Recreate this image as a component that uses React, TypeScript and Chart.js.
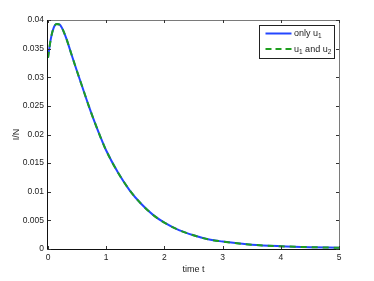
import React, { useEffect, useRef } from "react";
import { Chart, registerables } from "chart.js";
Chart.register(...registerables);

const tValues = [0, 0.05, 0.1, 0.15, 0.2, 0.3, 0.4, 0.5, 0.6, 0.7, 0.8, 0.9, 1.0, 1.2, 1.4, 1.6, 1.8, 2.0, 2.25, 2.5, 2.75, 3.0, 3.5, 4.0, 4.5, 5.0];
const onlyU1 = [0.0334, 0.0368, 0.0387, 0.0393, 0.0392, 0.0372, 0.0341, 0.031, 0.028, 0.025, 0.0222, 0.0196, 0.0172, 0.0134, 0.0103, 0.0079, 0.006, 0.0046, 0.0033, 0.0024, 0.0017, 0.0013, 0.00075, 0.00048, 0.00032, 0.00022];
const u1AndU2 = [0.0334, 0.0368, 0.0387, 0.0393, 0.0392, 0.0372, 0.0341, 0.031, 0.028, 0.025, 0.0222, 0.0196, 0.0172, 0.0134, 0.0103, 0.0079, 0.006, 0.0046, 0.0033, 0.0024, 0.0017, 0.0013, 0.00075, 0.00048, 0.00032, 0.00022];
const xTicks = [0, 1, 2, 3, 4, 5];
const yTicks = [0, 0.005, 0.01, 0.015, 0.02, 0.025, 0.03, 0.035, 0.04];

const BLUE = "#2446ff";
const GREEN = "#1f9f1f";
const FONT = "'Liberation Sans', Arial, sans-serif";

const framePlugin = {
  id: "frame",
  afterDatasetsDraw(chart: any) {
    const { ctx, chartArea } = chart;
    const { left, right, top, bottom } = chartArea;
    const xs = chart.scales.x;
    const ys = chart.scales.y;
    ctx.save();
    ctx.lineWidth = 1;
    ctx.strokeStyle = "#7a7a7a";
    ctx.beginPath();
    ctx.moveTo(left, top + 0.5);
    ctx.lineTo(right + 0.5, top + 0.5);
    ctx.lineTo(right + 0.5, bottom);
    ctx.stroke();
    ctx.strokeStyle = "#111";
    ctx.beginPath();
    ctx.moveTo(left - 0.5, top);
    ctx.lineTo(left - 0.5, bottom + 0.5);
    ctx.lineTo(right + 1, bottom + 0.5);
    ctx.stroke();
    ctx.strokeStyle = "#333";
    ctx.beginPath();
    xTicks.forEach((v) => {
      const px = Math.round(xs.getPixelForValue(v)) + 0.5;
      ctx.moveTo(px, bottom);
      ctx.lineTo(px, bottom - 3);
      ctx.moveTo(px, top);
      ctx.lineTo(px, top + 3);
    });
    yTicks.forEach((v) => {
      const py = Math.round(ys.getPixelForValue(v)) + 0.5;
      ctx.moveTo(left, py);
      ctx.lineTo(left + 3, py);
      ctx.moveTo(right, py);
      ctx.lineTo(right - 3, py);
    });
    ctx.stroke();

    // legend
    const bx = 259.5, by = 25.5, bw = 75, bh = 33;
    ctx.fillStyle = "#fff";
    ctx.fillRect(bx, by, bw, bh);
    ctx.strokeStyle = "#222";
    ctx.strokeRect(bx, by, bw, bh);
    ctx.lineWidth = 2;
    ctx.strokeStyle = BLUE;
    ctx.beginPath();
    ctx.moveTo(bx + 6, 33.5);
    ctx.lineTo(bx + 32, 33.5);
    ctx.stroke();
    ctx.strokeStyle = GREEN;
    ctx.setLineDash([6, 4]);
    ctx.beginPath();
    ctx.moveTo(bx + 6, 49);
    ctx.lineTo(bx + 32, 49);
    ctx.stroke();
    ctx.setLineDash([]);
    ctx.fillStyle = "#222";
    ctx.textBaseline = "alphabetic";
    ctx.textAlign = "left";
    const drawSub = (parts: [string, boolean][], x: number, y: number) => {
      let cx = x;
      parts.forEach(([s, sub]) => {
        ctx.font = (sub ? "6.5px " : "9px ") + FONT;
        ctx.fillText(s, cx, sub ? y + 2.5 : y);
        cx += ctx.measureText(s).width;
      });
    };
    drawSub([["only u", false], ["1", true]], bx + 34.5, 35.5);
    drawSub([["u", false], ["1", true], [" and u", false], ["2", true]], bx + 34.5, 51.5);
    ctx.restore();
  },
};

export default function App() {
  const ref = useRef<HTMLCanvasElement>(null);
  useEffect(() => {
    const chart = new Chart(ref.current!, {
      type: "line",
      data: {
        datasets: [
          {
            label: "only u1",
            data: tValues.map((t, i) => ({ x: t, y: onlyU1[i] })),
            borderColor: BLUE,
            borderWidth: 2,
            pointRadius: 0,
            cubicInterpolationMode: "monotone",
            fill: false,
            order: 2,
          },
          {
            label: "u1 and u2",
            data: tValues.map((t, i) => ({ x: t, y: u1AndU2[i] })),
            borderColor: GREEN,
            borderWidth: 2,
            borderDash: [6, 5],
            pointRadius: 0,
            cubicInterpolationMode: "monotone",
            fill: false,
            order: 1,
          },
        ],
      },
      options: {
        responsive: false,
        animation: false,
        layout: { padding: { top: 20, right: 35, left: 0, bottom: 0 } },
        plugins: { legend: { display: false }, tooltip: { enabled: false } },
        scales: {
          x: {
            type: "linear",
            min: 0,
            max: 5,
            afterBuildTicks: (s: any) => { s.ticks = xTicks.map((v) => ({ value: v })); },
            afterFit: (s: any) => { s.height = 32; },
            grid: { display: false, drawTicks: false },
            border: { display: false },
            ticks: { padding: 4, color: "#222", font: { family: FONT, size: 8.5 }, maxRotation: 0 },
            title: { display: true, text: "time t", color: "#222", font: { family: FONT, size: 9 }, padding: { top: 0, bottom: 6 } },
          },
          y: {
            type: "linear",
            min: 0,
            max: 0.04,
            afterBuildTicks: (s: any) => { s.ticks = yTicks.map((v) => ({ value: v })); },
            afterFit: (s: any) => { s.width = 48; },
            grid: { display: false, drawTicks: false },
            border: { display: false },
            ticks: { padding: 4, color: "#222", font: { family: FONT, size: 8.5 }, callback: (v: any) => String(Number(v)) },
            title: { display: true, text: "I/N", color: "#222", font: { family: FONT, size: 9 }, padding: { top: 11, bottom: 0 } },
          },
        },
      },
      plugins: [framePlugin],
    } as any);
    return () => chart.destroy();
  }, []);
  return (
    <div style={{ position: "fixed", left: 0, top: 0, width: 374, height: 281, background: "#fff" }}>
      <canvas ref={ref} width={374} height={281} style={{ width: 374, height: 281 }} />
    </div>
  );
}
